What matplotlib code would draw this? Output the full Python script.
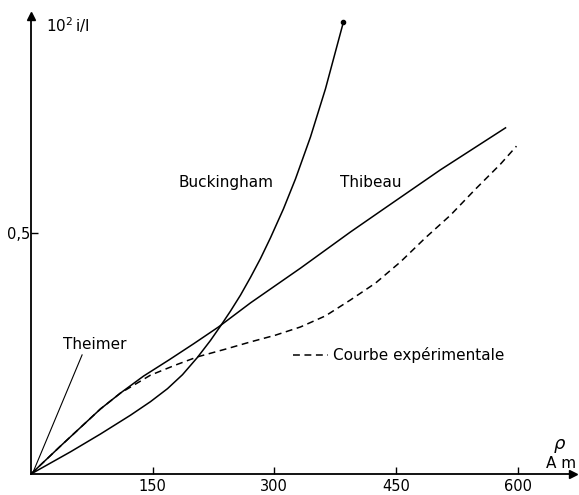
import numpy as np
import matplotlib
matplotlib.use("Agg")
import matplotlib.pyplot as plt

# values (rho in A/m, y = 10^2 i/I)
thibeau_x = [0, 36.4, 85.7, 110.4, 138.7, 170.5, 200.4, 231.2, 270.7, 332.3,
             393.9, 433.4, 504.9, 585.1]
thibeau_y = [0, 0.058, 0.135, 0.168, 0.203, 0.237, 0.270, 0.305, 0.355, 0.427,
             0.502, 0.548, 0.631, 0.718]

exp_x = [0, 36.4, 85.7, 110.4, 147.3, 178.2, 205.3, 239.8, 270.7, 301.5, 332.3,
         363.1, 393.9, 424.8, 455.6, 486.4, 517.3, 548.1, 579.0, 598.6]
exp_y = [0, 0.058, 0.135, 0.168, 0.205, 0.226, 0.243, 0.259, 0.274, 0.288, 0.305,
         0.328, 0.361, 0.396, 0.440, 0.490, 0.537, 0.591, 0.643, 0.680]

buck_x = [0, 48.7, 85.7, 122.7, 147.3, 168.3, 186.8, 205.3, 221.3, 233.7, 246.0,
          258.3, 270.7, 283.0, 295.3, 311.3, 326.1, 344.6, 363.1, 385.3]
buck_y = [0, 0.046, 0.083, 0.122, 0.150, 0.177, 0.206, 0.242, 0.277, 0.307, 0.338,
          0.371, 0.408, 0.447, 0.490, 0.550, 0.612, 0.699, 0.799, 0.938]

theimer_x = [2.6, 63]
theimer_y = [0.004, 0.247]

xticks = [150, 300, 450, 600]
xticklabels = ["150", "300", "450", "600"]
yticks = [0.5]
yticklabels = ["0,5"]

plt.rcParams['font.family'] = ['DejaVu Sans']
fig = plt.figure(figsize=(5.79, 4.95), dpi=100)
ax = fig.add_axes([31 / 579, 21 / 495, (573 - 31) / 579, (474 - 16) / 495])
ax.set_xlim(0, 668.3)
ax.set_ylim(0, 0.950)

for s in ['top', 'right']:
    ax.spines[s].set_visible(False)
for s in ['left', 'bottom']:
    ax.spines[s].set_linewidth(1.3)

# arrow heads at the ends of the axes
ax.plot(1, 0, '>k', ms=6, transform=ax.transAxes, clip_on=False)
ax.plot(0, 1, '^k', ms=6, transform=ax.transAxes, clip_on=False)

ax.plot(thibeau_x, thibeau_y, color='black', lw=1.1)
ax.plot(exp_x, exp_y, color='black', lw=1.1, dashes=(4.5, 3))
ax.plot(buck_x, buck_y, color='black', lw=1.1)
ax.plot(buck_x[-1], buck_y[-1], 'o', color='black', ms=3)
ax.plot(theimer_x, theimer_y, color='black', lw=0.8)

ax.set_xticks(xticks)
ax.set_xticklabels(xticklabels, fontsize=10.5)
ax.set_yticks(yticks)
ax.set_yticklabels(yticklabels, fontsize=10.5)
ax.tick_params(direction='in', length=5, width=1)
ax.tick_params(axis='x', pad=3.5)
ax.tick_params(axis='y', pad=0.5)

ax.text(241, 0.604, "Buckingham", fontsize=11, ha='center', va='center')
ax.text(418.6, 0.604, "Thibeau", fontsize=11, ha='center', va='center')
ax.text(78, 0.268, "Theimer", fontsize=11, ha='center', va='center')
ax.plot([323.6, 366.8], [0.247, 0.247], color='black', lw=1.1, dashes=(4.5, 3))
ax.text(371.8, 0.247, "Courbe expérimentale", fontsize=11, ha='left', va='center')

ax.text(19, 0.93, r"$\mathregular{10^2\,i/I}$", fontsize=11, ha='left', va='center',
        clip_on=False)
ax.text(652, 0.058, r"$\rho$", fontsize=13, ha='center', va='center', clip_on=False)
ax.text(653, 0.021, "A m", fontsize=11, ha='center', va='center', clip_on=False)

fig.savefig("out.png", dpi=100)
